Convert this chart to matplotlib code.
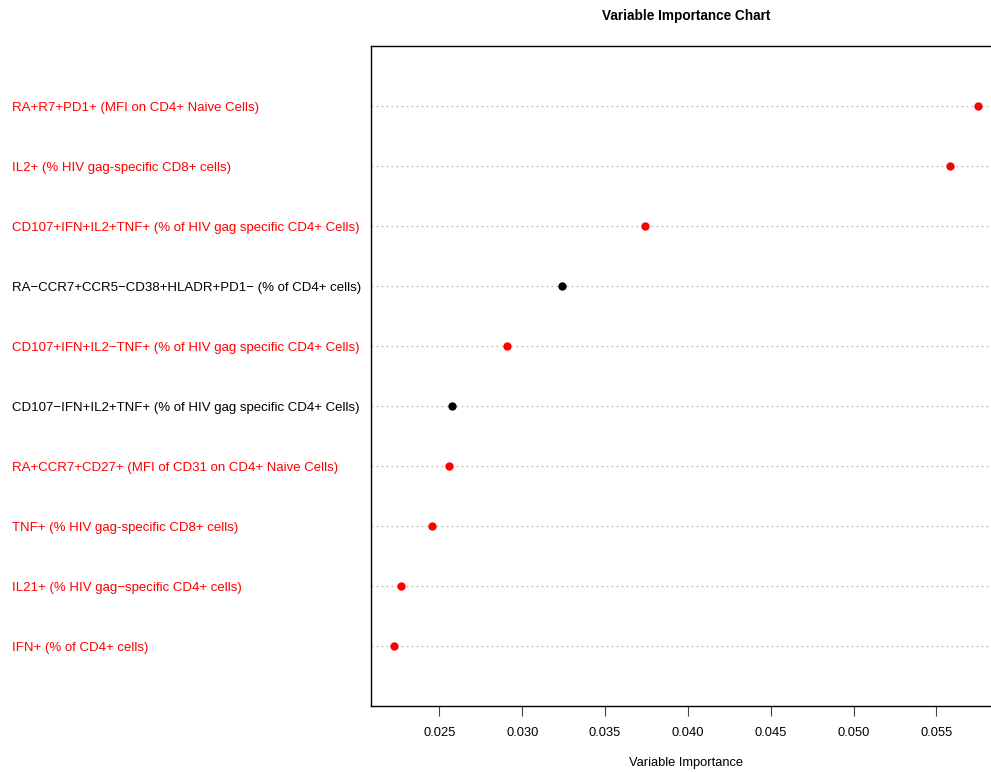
import matplotlib
matplotlib.use("Agg")
import matplotlib.pyplot as plt
import matplotlib.transforms as mtransforms
from matplotlib import font_manager

plt.rcParams["font.family"] = ["Liberation Sans", "DejaVu Sans"]

# top to bottom
labels = [
    "RA+R7+PD1+ (MFI on CD4+ Naive Cells)",
    "IL2+ (% HIV gag-specific CD8+ cells)",
    "CD107+IFN+IL2+TNF+ (% of HIV gag specific CD4+ Cells)",
    "RA\u2212CCR7+CCR5\u2212CD38+HLADR+PD1\u2212 (% of CD4+ cells)",
    "CD107+IFN+IL2\u2212TNF+ (% of HIV gag specific CD4+ Cells)",
    "CD107\u2212IFN+IL2+TNF+ (% of HIV gag specific CD4+ Cells)",
    "RA+CCR7+CD27+ (MFI of CD31 on CD4+ Naive Cells)",
    "TNF+ (% HIV gag-specific CD8+ cells)",
    "IL21+ (% HIV gag\u2212specific CD4+ cells)",
    "IFN+ (% of CD4+ cells)",
]
importance = [0.05749, 0.05580, 0.03744, 0.03243, 0.02911,
              0.02578, 0.02560, 0.02458, 0.02271, 0.02228]
colors = ["red", "red", "red", "black", "red",
          "black", "red", "red", "red", "red"]
xticks = [0.025, 0.030, 0.035, 0.040, 0.045, 0.050, 0.055]

W, H = 991, 772
fig = plt.figure(figsize=(W / 100, H / 100), dpi=100)
ax = fig.add_axes([371 / W, 66 / H, 630 / W, 660 / H])

n = len(labels)
ys = list(range(n, 0, -1))

for y, v, c in zip(ys, importance, colors):
    ax.axhline(y, color="#bdbdbd", lw=0.9, ls=(0, (1.5, 2.5)), zorder=1)
    ax.plot(v, y, "o", color=c, ms=6, mew=0, zorder=3)

trans = mtransforms.blended_transform_factory(fig.transFigure, ax.transData)
for y, lab, c in zip(ys, labels, colors):
    ax.text(12 / W, y, lab, color=c, fontsize=9.5, ha="left",
            va="center_baseline", transform=trans, clip_on=False)

lo, hi = min(importance), max(importance)
r = hi - lo
ax.set_xlim(lo - 0.04 * r, hi + 0.04 * r)
ax.set_ylim(0, n + 1)
ax.set_yticks([])
ax.set_xticks(xticks)
ax.set_xticklabels([f"{t:.3f}" for t in xticks], fontsize=9.3)
ax.tick_params(axis="x", direction="out", length=7, width=0.8, pad=8,
               color="#444444")
for s in ax.spines.values():
    s.set_linewidth(1.0)

ax.set_xlabel("Variable Importance", fontsize=9.3, labelpad=13)

# narrow bold face for the title if it is there
names = {f.name for f in font_manager.fontManager.ttflist}
if "Liberation Sans Narrow" in names:
    title_font, title_size = "Liberation Sans Narrow", 12
else:
    title_font, title_size = "Liberation Sans", 9.8
fig.text(686 / W, 1 - 16 / H, "Variable Importance Chart", fontsize=title_size,
         fontweight="bold", family=[title_font, "DejaVu Sans"],
         ha="center", va="center")

fig.savefig("out.png", dpi=100)
